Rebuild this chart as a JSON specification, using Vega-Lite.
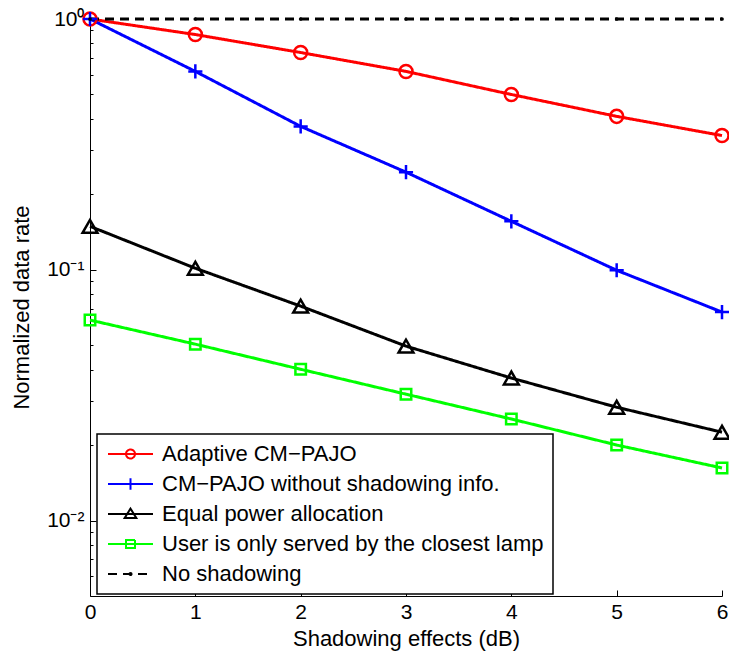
{
  "$schema": "https://vega.github.io/schema/vega-lite/v6.json",
  "width": 632,
  "height": 577,
  "autosize": {"type": "none"},
  "padding": {"left": 90, "top": 19, "right": 7, "bottom": 58},
  "background": "white",
  "config": {
    "view": {"stroke": null},
    "font": "Liberation Sans",
    "legend": {"strokeWidth": 1.5},
    "axis": {
      "grid": false,
      "domainColor": "black",
      "domainWidth": 1,
      "tickColor": "black",
      "tickWidth": 1,
      "labelColor": "black",
      "titleColor": "black",
      "labelFont": "Liberation Sans",
      "titleFont": "Liberation Sans",
      "labelFontSize": 21,
      "titleFontSize": 22,
      "titleFontWeight": "normal"
    }
  },
  "datasets": {
    "rate": [
      {"shadow": 0, "rate": 1, "s": "Adaptive CM−PAJO"},
      {"shadow": 1, "rate": 0.867, "s": "Adaptive CM−PAJO"},
      {"shadow": 2, "rate": 0.735, "s": "Adaptive CM−PAJO"},
      {"shadow": 3, "rate": 0.618, "s": "Adaptive CM−PAJO"},
      {"shadow": 4, "rate": 0.5, "s": "Adaptive CM−PAJO"},
      {"shadow": 5, "rate": 0.409, "s": "Adaptive CM−PAJO"},
      {"shadow": 6, "rate": 0.343, "s": "Adaptive CM−PAJO"},
      {"shadow": 0, "rate": 1, "s": "CM−PAJO without shadowing info."},
      {"shadow": 1, "rate": 0.618, "s": "CM−PAJO without shadowing info."},
      {"shadow": 2, "rate": 0.373, "s": "CM−PAJO without shadowing info."},
      {"shadow": 3, "rate": 0.245, "s": "CM−PAJO without shadowing info."},
      {"shadow": 4, "rate": 0.156, "s": "CM−PAJO without shadowing info."},
      {"shadow": 5, "rate": 0.0995, "s": "CM−PAJO without shadowing info."},
      {"shadow": 6, "rate": 0.0678, "s": "CM−PAJO without shadowing info."},
      {"shadow": 0, "rate": 0.149, "s": "Equal power allocation"},
      {"shadow": 1, "rate": 0.1014, "s": "Equal power allocation"},
      {"shadow": 2, "rate": 0.0716, "s": "Equal power allocation"},
      {"shadow": 3, "rate": 0.0496, "s": "Equal power allocation"},
      {"shadow": 4, "rate": 0.037, "s": "Equal power allocation"},
      {"shadow": 5, "rate": 0.0283, "s": "Equal power allocation"},
      {"shadow": 6, "rate": 0.0225, "s": "Equal power allocation"},
      {"shadow": 0, "rate": 0.063, "s": "User is only served by the closest lamp"},
      {"shadow": 1, "rate": 0.0505, "s": "User is only served by the closest lamp"},
      {"shadow": 2, "rate": 0.0401, "s": "User is only served by the closest lamp"},
      {"shadow": 3, "rate": 0.0319, "s": "User is only served by the closest lamp"},
      {"shadow": 4, "rate": 0.0254, "s": "User is only served by the closest lamp"},
      {"shadow": 5, "rate": 0.02, "s": "User is only served by the closest lamp"},
      {"shadow": 6, "rate": 0.0162, "s": "User is only served by the closest lamp"},
      {"shadow": 0, "rate": 1, "s": "No shadowing"},
      {"shadow": 1, "rate": 1, "s": "No shadowing"},
      {"shadow": 2, "rate": 1, "s": "No shadowing"},
      {"shadow": 3, "rate": 1, "s": "No shadowing"},
      {"shadow": 4, "rate": 1, "s": "No shadowing"},
      {"shadow": 5, "rate": 1, "s": "No shadowing"},
      {"shadow": 6, "rate": 1, "s": "No shadowing"}
    ]
  },
  "data": {"name": "rate"},
  "encoding": {
    "x": {
      "field": "shadow",
      "type": "quantitative",
      "scale": {"domain": [0, 6], "nice": false, "zero": false},
      "axis": {
        "title": "Shadowing effects (dB)",
        "values": [0, 1, 2, 3, 4, 5, 6],
        "format": "d",
        "tickSize": -6,
        "labelPadding": 11,
        "labelFlush": false,
        "labelOverlap": false,
        "titleX": 316,
        "titleY": 49,
        "titleBaseline": "alphabetic"
      }
    },
    "y": {
      "field": "rate",
      "type": "quantitative",
      "scale": {"type": "log", "domain": [0.005, 1], "nice": false},
      "axis": {
        "title": "Normalized data rate",
        "values": [0.006, 0.007, 0.008, 0.009, 0.01, 0.02, 0.03, 0.04, 0.05, 0.06, 0.07, 0.08, 0.09, 0.1, 0.2, 0.3, 0.4, 0.5, 0.6, 0.7, 0.8, 0.9, 1],
        "labelExpr": "datum.value == 1 ? '10⁰' : datum.value == 0.1 ? '10⁻¹' : datum.value == 0.01 ? '10⁻²' : ''",
        "labelOverlap": false,
        "labelFlush": false,
        "labelPadding": 12,
        "tickSize": {"condition": {"test": "datum.value == 1 || datum.value == 0.1 || datum.value == 0.01", "value": -6}, "value": -3},
        "titleX": -62,
        "titleY": 288,
        "titleBaseline": "alphabetic"
      }
    }
  },
  "layer": [
    {
      "transform": [{"filter": "false"}],
      "mark": {"type": "point", "filled": false, "strokeWidth": 2, "size": 324, "opacity": 1},
      "encoding": {
        "color": {
          "field": "s",
          "type": "nominal",
          "scale": {
            "domain": ["Adaptive CM−PAJO", "CM−PAJO without shadowing info.", "Equal power allocation", "User is only served by the closest lamp", "No shadowing"],
            "range": ["#ff0000", "#0000ff", "#000000", "#00ff00", "#000000"]
          },
          "legend": {
            "orient": "none", "legendX": 7, "legendY": 415, "title": null,
            "padding": 9, "rowPadding": 8, "fillColor": "white", "strokeColor": "black",
            "symbolSize": 324, "symbolStrokeWidth": 2, "labelOffset": 34,
            "labelFontSize": 22, "labelFont": "Liberation Sans", "labelColor": "black", "labelLimit": 0
          }
        },
        "shape": {
          "field": "s",
          "type": "nominal",
          "scale": {
            "domain": ["Adaptive CM−PAJO", "CM−PAJO without shadowing info.", "Equal power allocation", "User is only served by the closest lamp", "No shadowing"],
            "range": [
              "M-1,0L4,0M2,0A0.5,0.5 0 1,1 1,0A0.5,0.5 0 1,1 2,0",
              "M-1,0L4,0M1.5,-0.65L1.5,0.65",
              "M-1,0L4,0M1.5,-0.6L2.15,0.45L0.85,0.45Z",
              "M-1,0L4,0M1,-0.45L2,-0.45L2,0.45L1,0.45Z",
              "M-1,0L4,0M1.62,0A0.12,0.12 0 1,1 1.38,0A0.12,0.12 0 1,1 1.62,0"
            ]
          },
          "legend": {
            "orient": "none", "legendX": 7, "legendY": 415, "title": null,
            "padding": 9, "rowPadding": 8, "fillColor": "white", "strokeColor": "black",
            "symbolSize": 324, "symbolStrokeWidth": 2, "labelOffset": 34,
            "labelFontSize": 22, "labelFont": "Liberation Sans", "labelColor": "black", "labelLimit": 0
          }
        },
        "strokeDash": {
          "field": "s",
          "type": "nominal",
          "scale": {
            "domain": ["Adaptive CM−PAJO", "CM−PAJO without shadowing info.", "Equal power allocation", "User is only served by the closest lamp", "No shadowing"],
            "range": [[1, 0], [1, 0], [1, 0], [1, 0], [9, 6]]
          },
          "legend": {
            "orient": "none", "legendX": 7, "legendY": 415, "title": null,
            "padding": 9, "rowPadding": 8, "fillColor": "white", "strokeColor": "black",
            "symbolSize": 324, "symbolStrokeWidth": 2, "labelOffset": 34,
            "labelFontSize": 22, "labelFont": "Liberation Sans", "labelColor": "black", "labelLimit": 0
          }
        }
      }
    },
    {
      "mark": {"type": "line", "strokeWidth": 3},
      "encoding": {
        "color": {
          "field": "s",
          "type": "nominal",
          "scale": {
            "domain": ["Adaptive CM−PAJO", "CM−PAJO without shadowing info.", "Equal power allocation", "User is only served by the closest lamp", "No shadowing"],
            "range": ["#ff0000", "#0000ff", "#000000", "#00ff00", "#000000"]
          }
        },
        "strokeDash": {
          "field": "s",
          "type": "nominal",
          "scale": {
            "domain": ["Adaptive CM−PAJO", "CM−PAJO without shadowing info.", "Equal power allocation", "User is only served by the closest lamp", "No shadowing"],
            "range": [[1, 0], [1, 0], [1, 0], [1, 0], [9, 6]]
          }
        }
      }
    },
    {
      "transform": [{"filter": "datum.s == 'Adaptive CM−PAJO'"}],
      "mark": {"type": "point", "shape": "circle", "size": 170, "filled": false, "color": "#ff0000", "strokeWidth": 2.5, "opacity": 1}
    },
    {
      "transform": [{"filter": "datum.s == 'CM−PAJO without shadowing info.'"}],
      "mark": {"type": "point", "shape": "M-1,0L1,0M0,-1L0,1", "size": 200, "filled": false, "color": "#0000ff", "strokeWidth": 2.5, "opacity": 1}
    },
    {
      "transform": [{"filter": "datum.s == 'Equal power allocation'"}],
      "mark": {"type": "point", "shape": "triangle-up", "size": 220, "filled": false, "color": "#000000", "strokeWidth": 2.5, "opacity": 1}
    },
    {
      "transform": [{"filter": "datum.s == 'User is only served by the closest lamp'"}],
      "mark": {"type": "point", "shape": "square", "size": 110, "filled": false, "color": "#00ff00", "strokeWidth": 2.5, "opacity": 1}
    },
    {
      "transform": [{"filter": "datum.s == 'No shadowing'"}],
      "mark": {"type": "point", "shape": "circle", "size": 14, "filled": true, "color": "#000000", "opacity": 1}
    }
  ]
}
